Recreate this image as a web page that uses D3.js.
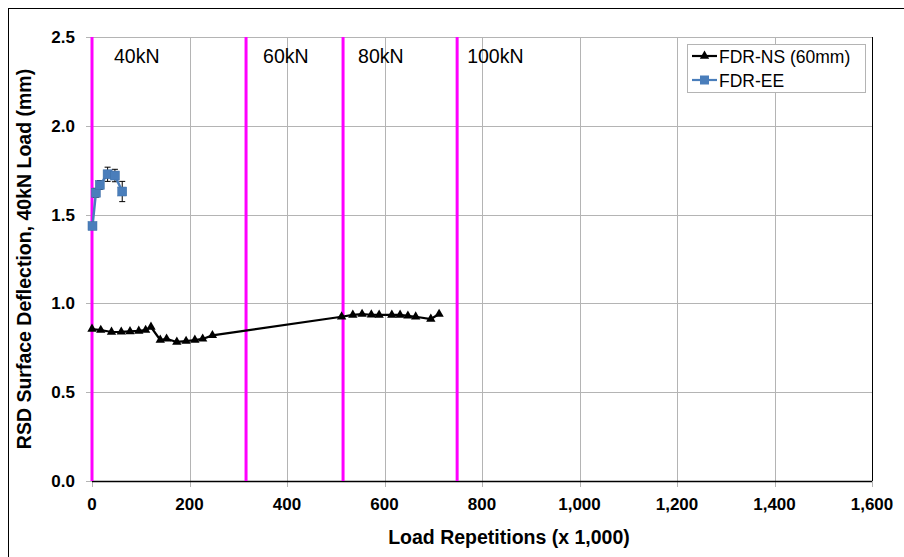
<!DOCTYPE html>
<html><head><meta charset="utf-8">
<script src="https://cdn.jsdelivr.net/npm/d3@7"></script>
<style>body{margin:0;background:#fff}svg{display:block}</style>
</head><body>
<script>
// Data
const nsX = [0, 18, 40, 60, 78, 96, 110, 121, 140, 153, 174, 193, 211, 227, 247, 512, 535, 554, 573, 589, 615, 632, 648, 664, 695, 712];
const nsY = [0.856, 0.85, 0.839, 0.84, 0.842, 0.845, 0.85, 0.867, 0.794, 0.80, 0.783, 0.788, 0.794, 0.80, 0.82, 0.925, 0.935, 0.94, 0.936, 0.935, 0.935, 0.935, 0.93, 0.925, 0.912, 0.94];
const eeX = [1, 8, 16, 32, 47, 62];
const eeY = [1.436, 1.623, 1.667, 1.727, 1.72, 1.63];
const eeErr = [0.01, 0.025, 0.025, 0.04, 0.035, 0.057];
const loadLines = [0, 316, 515, 749];
const loadLabels = ["40kN", "60kN", "80kN", "100kN"];
const xTicks = [0, 200, 400, 600, 800, 1000, 1200, 1400, 1600];
const yTicks = [0.0, 0.5, 1.0, 1.5, 2.0, 2.5];
const seriesNames = ["FDR-NS (60mm)", "FDR-EE"];

const W = 904, H = 557;
const FONT = "Liberation Sans, Arial, sans-serif";
const svg = d3.select("body").append("svg").attr("width", W).attr("height", H);
svg.append("rect").attr("x", 8.5).attr("y", 8.5).attr("width", W).attr("height", H).attr("fill", "#fff").attr("stroke", "#000").attr("stroke-width", 1);

const L = 92, R = 872, T = 37, B = 481;
const x = d3.scaleLinear().domain([0, 1600]).range([L, R]);
const y = d3.scaleLinear().domain([0, 2.5]).range([B, T]);

// gridlines
svg.append("g").selectAll("line").data(yTicks).join("line")
  .attr("x1", L - 6).attr("x2", R).attr("y1", d => Math.round(y(d)) + 0.5).attr("y2", d => Math.round(y(d)) + 0.5)
  .attr("stroke", "#b4b4b4").attr("stroke-width", 1);
svg.append("g").selectAll("line").data(xTicks).join("line")
  .attr("x1", d => Math.round(x(d)) + 0.5).attr("x2", d => Math.round(x(d)) + 0.5).attr("y1", T).attr("y2", B + 6)
  .attr("stroke", "#b4b4b4").attr("stroke-width", 1);

// frame right & bottom
svg.append("line").attr("x1", R + 0.5).attr("x2", R + 0.5).attr("y1", T).attr("y2", B).attr("stroke", "#000");
svg.append("line").attr("x1", L).attr("x2", R).attr("y1", B + 0.5).attr("y2", B + 0.5).attr("stroke", "#000").attr("stroke-width", 1.5);

// tick labels
svg.append("g").selectAll("text").data(yTicks).join("text")
  .attr("x", 75).attr("y", d => y(d) + 6).attr("text-anchor", "end")
  .attr("font-family", FONT).attr("font-weight", "bold").attr("font-size", 17)
  .text(d => d3.format(".1f")(d));
svg.append("g").selectAll("text").data(xTicks).join("text")
  .attr("x", d => x(d)).attr("y", 510).attr("text-anchor", "middle")
  .attr("font-family", FONT).attr("font-weight", "bold").attr("font-size", 17)
  .text(d => d3.format(",")(d));

// axis titles
svg.append("text").attr("x", (L + R) / 2 + 27).attr("y", 544).attr("text-anchor", "middle")
  .attr("font-family", FONT).attr("font-weight", "bold").attr("font-size", 19.5)
  .text("Load Repetitions (x 1,000)");
svg.append("text").attr("transform", `translate(31,${(T + B) / 2}) rotate(-90)`).attr("text-anchor", "middle")
  .attr("font-family", FONT).attr("font-weight", "bold").attr("font-size", 19.5)
  .text("RSD Surface Deflection, 40kN Load (mm)");

// load lines
svg.append("g").selectAll("line").data(loadLines).join("line")
  .attr("x1", d => x(d)).attr("x2", d => x(d)).attr("y1", T).attr("y2", B)
  .attr("stroke", "#ff00ff").attr("stroke-width", 3);
const labOff = [22, 17, 15, 10];
svg.append("g").selectAll("text").data(loadLabels).join("text")
  .attr("x", (d, i) => x(loadLines[i]) + labOff[i]).attr("y", 63)
  .attr("font-family", FONT).attr("font-size", 19.5)
  .text(d => d);

// FDR-NS
const lineGen = d3.line().x(d => x(d[0])).y(d => y(d[1]));
const ns = nsX.map((v, i) => [v, nsY[i]]);
svg.append("path").datum(ns).attr("d", lineGen).attr("fill", "none").attr("stroke", "#000").attr("stroke-width", 2.2);
const tri = d3.symbol().type(d3.symbolTriangle).size(38);
svg.append("g").selectAll("path").data(ns).join("path")
  .attr("d", tri).attr("transform", d => `translate(${x(d[0])},${y(d[1])})`).attr("fill", "#000");

// FDR-EE
const ee = eeX.map((v, i) => [v, eeY[i], eeErr[i]]);
const eg = svg.append("g");
ee.forEach(d => {
  const cx = x(d[0]), y1 = y(d[1] + d[2]), y2 = y(d[1] - d[2]);
  eg.append("line").attr("x1", cx).attr("x2", cx).attr("y1", y1).attr("y2", y2).attr("stroke", "#000");
  eg.append("line").attr("x1", cx - 3).attr("x2", cx + 3).attr("y1", y1).attr("y2", y1).attr("stroke", "#000");
  eg.append("line").attr("x1", cx - 3).attr("x2", cx + 3).attr("y1", y2).attr("y2", y2).attr("stroke", "#000");
});
svg.append("path").datum(ee).attr("d", lineGen).attr("fill", "none").attr("stroke", "#4a7ebb").attr("stroke-width", 2.5);
svg.append("g").selectAll("rect").data(ee).join("rect")
  .attr("x", d => x(d[0]) - 4.5).attr("y", d => y(d[1]) - 4.5).attr("width", 9).attr("height", 9)
  .attr("fill", "#4a7ebb").attr("stroke", "#3d6ea6").attr("stroke-width", 0.5);

// legend
const lg = svg.append("g");
lg.append("rect").attr("x", 687.5).attr("y", 44.5).attr("width", 178).attr("height", 48).attr("fill", "#fff").attr("stroke", "#b4b4b4");
const legY = [56, 80];
const legC = ["#000", "#4a7ebb"];
seriesNames.forEach((n, i) => {
  lg.append("line").attr("x1", 692).attr("x2", 717).attr("y1", legY[i]).attr("y2", legY[i]).attr("stroke", legC[i]).attr("stroke-width", 2.2);
  if (i === 0) lg.append("path").attr("d", tri).attr("transform", `translate(704.5,${legY[i]})`).attr("fill", "#000");
  else lg.append("rect").attr("x", 700).attr("y", legY[i] - 4.5).attr("width", 9).attr("height", 9).attr("fill", "#4a7ebb");
  lg.append("text").attr("x", 719).attr("y", legY[i] + 6.5).attr("font-family", FONT).attr("font-size", 17.5).text(n);
});
</script>
</body></html>
